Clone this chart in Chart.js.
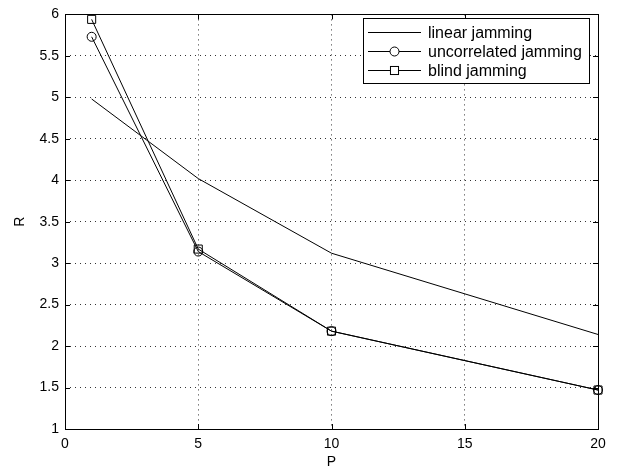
<!DOCTYPE html>
<html>
<head>
<meta charset="utf-8">
<script src="https://cdn.jsdelivr.net/npm/chart.js@4/dist/chart.umd.min.js"></script>
<style>
  html, body { margin: 0; padding: 0; background: #fff; }
  #wrap { width: 629px; height: 471px; }
</style>
</head>
<body>
<div id="wrap"><canvas id="chart"></canvas></div>
<script>
// values
var pValues = [1, 5, 10, 20];
var linearJamming = [4.98, 4.02, 3.12, 2.14];
var uncorrelatedJamming = [5.73, 3.14, 2.18, 1.47];
var blindJamming = [5.94, 3.17, 2.18, 1.47];
var xTicks = [0, 5, 10, 15, 20];
var yTicks = [1, 1.5, 2, 2.5, 3, 3.5, 4, 4.5, 5, 5.5, 6];
var legendLabels = ['linear jamming', 'uncorrelated jamming', 'blind jamming'];

var FONT = '"Liberation Sans", Arial, sans-serif';

function toPoints(ys) {
    return pValues.map(function (p, i) { return { x: p, y: ys[i] }; });
}

// box round the axes plus inward ticks, as matlab does
var boxPlugin = {
    id: 'box',
    afterDraw: function (chart) {
        var ctx = chart.ctx;
        var a = chart.chartArea;
        var xs = chart.scales.x, ys = chart.scales.y;
        ctx.save();
        ctx.strokeStyle = '#000';
        ctx.lineWidth = 1;
        ctx.strokeRect(Math.round(a.left) + 0.5, Math.round(a.top) + 0.5,
            Math.round(a.right - a.left), Math.round(a.bottom - a.top));
        ctx.beginPath();
        xTicks.forEach(function (t) {
            var px = Math.round(xs.getPixelForValue(t)) + 0.5;
            ctx.moveTo(px, a.bottom); ctx.lineTo(px, a.bottom - 5);
            ctx.moveTo(px, a.top); ctx.lineTo(px, a.top + 5);
        });
        yTicks.forEach(function (t) {
            var py = Math.round(ys.getPixelForValue(t)) + 0.5;
            ctx.moveTo(a.left, py); ctx.lineTo(a.left + 5, py);
            ctx.moveTo(a.right, py); ctx.lineTo(a.right - 5, py);
        });
        ctx.stroke();

        // legend box
        var lx = 363.5, ly = 18.5, lw = 226, lh = 65;
        ctx.fillStyle = '#fff';
        ctx.fillRect(lx, ly, lw, lh);
        ctx.strokeRect(lx, ly, lw, lh);
        var rows = [32, 51, 70];
        ctx.font = '16px ' + FONT;
        ctx.textBaseline = 'middle';
        chart.data.datasets.forEach(function (ds, i) {
            var y = rows[i] + 0.5;
            ctx.beginPath();
            ctx.moveTo(368, y); ctx.lineTo(421, y);
            ctx.stroke();
            ctx.fillStyle = '#fff';
            if (ds.pointStyle === 'circle') {
                ctx.beginPath();
                ctx.arc(394.5, y, ds.pointRadius, 0, Math.PI * 2);
                ctx.fill();
                ctx.stroke();
            } else if (ds.pointStyle === 'rect') {
                var s = ds.pointRadius * Math.SQRT1_2;
                ctx.fillRect(394.5 - s, y - s, 2 * s, 2 * s);
                ctx.strokeRect(394.5 - s, y - s, 2 * s, 2 * s);
            }
            ctx.fillStyle = '#000';
            ctx.fillText(legendLabels[i], 428, y + 1);
        });
        ctx.restore();
    }
};

var ctx = document.getElementById('chart').getContext('2d');
new Chart(ctx, {
    type: 'line',
    data: {
        datasets: [{
            label: legendLabels[0],
            data: toPoints(linearJamming),
            borderColor: '#000',
            borderWidth: 1,
            pointRadius: 0,
            pointStyle: false,
            fill: false,
            clip: false
        }, {
            label: legendLabels[1],
            data: toPoints(uncorrelatedJamming),
            borderColor: '#000',
            borderWidth: 1,
            pointStyle: 'circle',
            pointRadius: 4.5,
            pointBorderWidth: 1,
            pointBackgroundColor: 'rgba(0,0,0,0)',
            fill: false,
            clip: false
        }, {
            label: legendLabels[2],
            data: toPoints(blindJamming),
            borderColor: '#000',
            borderWidth: 1,
            pointStyle: 'rect',
            pointRadius: 5.7,
            pointBorderWidth: 1,
            pointBackgroundColor: 'rgba(0,0,0,0)',
            fill: false,
            clip: false
        }]
    },
    options: {
        responsive: true,
        maintainAspectRatio: false,
        animation: false,
        devicePixelRatio: 1,
        layout: { padding: { top: 10, right: 31, left: 0, bottom: 0 } },
        plugins: {
            legend: { display: false },
            tooltip: { enabled: false }
        },
        scales: {
            x: {
                type: 'linear',
                min: 0, max: 20,
                afterFit: function (scale) { scale.height = 42; },
                afterBuildTicks: function (scale) {
                    scale.ticks = xTicks.map(function (v) { return { value: v }; });
                },
                grid: { color: '#333', drawTicks: false, lineWidth: 1 },
                border: { display: false, dash: [1, 4] },
                ticks: {
                    color: '#000', padding: 7, font: { family: FONT, size: 14 },
                    callback: function (v) { return String(v); }
                },
                title: {
                    display: true, text: 'P', color: '#000',
                    padding: { top: 3, bottom: 0 },
                    font: { family: FONT, size: 14 }
                }
            },
            y: {
                type: 'linear',
                min: 1, max: 6,
                afterFit: function (scale) { scale.width = 65; },
                afterBuildTicks: function (scale) {
                    scale.ticks = yTicks.map(function (v) { return { value: v }; });
                },
                grid: { color: '#333', drawTicks: false, lineWidth: 1 },
                border: { display: false, dash: [1, 4] },
                ticks: {
                    color: '#000', padding: 6, font: { family: FONT, size: 14 },
                    callback: function (v) { return String(v); }
                },
                title: {
                    display: true, text: 'R', color: '#000',
                    padding: { top: 12, bottom: 0 },
                    font: { family: FONT, size: 14 }
                }
            }
        }
    },
    plugins: [boxPlugin]
});
</script>
</body>
</html>
